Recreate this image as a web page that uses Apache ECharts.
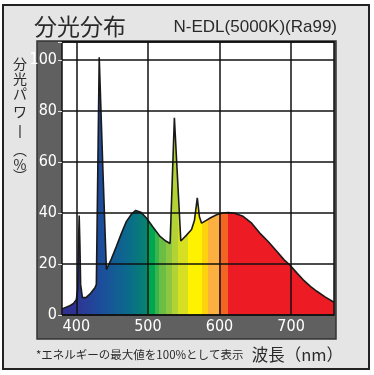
<!DOCTYPE html>
<html><head><meta charset="utf-8">
<script src="https://cdn.jsdelivr.net/npm/echarts@6/dist/echarts.min.js"></script>
<style>html,body{margin:0;padding:0;background:#fff}#c{width:374px;height:375px}</style>
</head><body><div id="c"></div>
<script>
// Data (wavelength nm, relative spectral power %)
const wavelengths = [380,390,396,400,402,403,404,405,406,408.5,413.5,420,426,428,432,437,442,449,456,463,470,477,483,490,498,507,517,525,531,537,546,553,561,565,569,572,575,581,587,596,604,612,620,633,645,656,668,680,690,698,708,717,727,736,748,760];
const power =       [2.4,3.5,4.5,6,10,28,39,28,12,6.8,6.8,8.5,10.7,12,101,58,17.8,22,26.9,32,36.7,39.5,41,40.3,38,34.5,30.8,29,28,77.3,29,31,33.5,37,45.9,38.5,36,37,38,39.3,40,40.2,40,38.7,36,32.2,28.8,25,21.7,19.7,16.5,13.8,11.2,9.3,7,5];
const xTicks = [400,500,600,700];
const yTicks = [0,20,40,60,80,100];
const titleText = '分光分布';
const subtitleText = 'N-EDL(5000K)(Ra99)';
const yNameChars = ['分','光','パ','ワ','丨','︵','%','︶'];
const xNameText = '波長（nm）';
const noteText = '*エネルギーの最大値を100%として表示';

// colour bands by wavelength [start, end, colorStart, colorEnd]
const bands = [
  [380,398,'#2e3192','#2e3192'],
  [398,436,'#2f3493','#1c4e9c'],
  [436,472,'#1c4e9c','#0b6a8c'],
  [472,499,'#0b6a8c','#07846f'],
  [499,510,'#00a651','#00a651'],
  [510,516,'#3ab54a','#3ab54a'],
  [516,525,'#6bbd45','#6bbd45'],
  [525,533,'#8dc63f','#8dc63f'],
  [533,542,'#b2d235','#b2d235'],
  [542,556,'#d7df23','#d7df23'],
  [556,575,'#fff200','#fff200'],
  [575,584,'#fed20c','#fed20c'],
  [584,599,'#fbb040','#fbb040'],
  [599,612,'#f26522','#f26522'],
  [612,760,'#ed1c24','#ed1c24']
];
const X0 = 380, X1 = 760;
const stops = [];
bands.forEach(b => {
  stops.push({offset:(b[0]-X0)/(X1-X0), color:b[2]});
  stops.push({offset:(b[1]-X0)/(X1-X0), color:b[3]});
});

const chart = echarts.init(document.getElementById('c'), null, {renderer:'canvas'});
const numFont = "'Liberation Sans Narrow','DejaVu Sans Condensed','Liberation Sans',sans-serif";
const cjk = "'Noto Sans CJK JP','Noto Sans',sans-serif";

const graphics = [
  {type:'rect', z:-100, shape:{x:3,y:5,width:366,height:364}, style:{fill:'#e5e5e5', stroke:'#222', lineWidth:2}},
  {type:'rect', z:-90, shape:{x:37,y:41,width:299,height:298}, style:{fill:'#606060', stroke:'#333', lineWidth:1.5}},
  {type:'rect', z:-80, shape:{x:62,y:42,width:272,height:273}, style:{fill:'#fff'}},
  {type:'text', x:34, y:26, style:{text:titleText, font:"23px "+cjk, fill:'#2a2a2a', textVerticalAlign:'middle'}},
  {type:'text', x:337, y:27, style:{text:subtitleText, font:"17px 'Liberation Sans',sans-serif", fill:'#2a2a2a', textAlign:'right', textVerticalAlign:'middle'}},
  {type:'text', x:36, y:355, style:{text:noteText, font:"11.5px "+cjk, fill:'#2a2a2a', textVerticalAlign:'middle'}},
  {type:'text', x:343, y:355, style:{text:xNameText, font:"16.5px "+cjk, fill:'#2a2a2a', textAlign:'right', textVerticalAlign:'middle'}}
];
const yNameY = [64,79,94,112,131,150,164.5,176];
yNameChars.forEach((ch,i) => {
  graphics.push({type:'text', x:20, y:yNameY[i], style:{text:ch, font:"14px "+cjk, fill:'#2a2a2a', textAlign:'center', textVerticalAlign:'middle'}});
});

chart.setOption({
  animation:false,
  backgroundColor:'#fff',
  graphic: graphics,
  grid:{left:62, right:40, top:42, bottom:60, show:true, backgroundColor:'transparent', borderColor:'#111', borderWidth:1.5, containLabel:false},
  xAxis:{
    type:'value', min:X0, max:X1,
    axisLine:{show:false},
    axisTick:{show:false, customValues:xTicks},
    axisLabel:{customValues:xTicks, color:'#fff', fontSize:16, fontFamily:numFont, margin:4},
    splitLine:{show:true, lineStyle:{color:'#111', width:1.5}}
  },
  yAxis:{
    type:'value', min:0, max:107, interval:20,
    axisLine:{show:false},
    axisTick:{show:true, length:4, lineStyle:{color:'#ddd', width:1}},
    axisLabel:{color:'#fff', fontSize:16, fontFamily:numFont, margin:5,
      formatter: v => (yTicks.indexOf(v) >= 0 ? String(v) : '')},
    splitLine:{show:true, lineStyle:{color:'#111', width:1.5}}
  },
  series:[{
    type:'line', data: wavelengths.map((w,i)=>[w,power[i]]),
    symbol:'none', smooth:false,
    lineStyle:{color:'#1a1a1a', width:1.6},
    areaStyle:{opacity:1, color:{type:'linear', x:0, y:0, x2:1, y2:0, colorStops:stops}},
    z:-1
  }]
});
</script></body></html>
